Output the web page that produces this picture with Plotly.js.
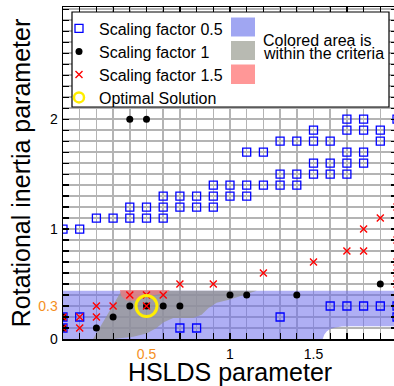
<!DOCTYPE html>
<html><head><meta charset="utf-8">
<script src="https://cdn.plot.ly/plotly-3.0.1.min.js"></script>
<style>html,body{margin:0;padding:0;overflow:hidden;background:#fff}#chart{width:400px;height:386px}</style>
</head><body><div id="chart"></div>
<script>
// ---- data ----
// Scaling factor 0.5 (blue open squares)
const sf05X = [0.0,0.1, 0.2,0.3,0.4,0.5,0.6, 0.4,0.5,0.6,0.7,0.8,0.9, 0.6,0.7,0.8,0.9,1.0,1.1,
               0.9,1.0,1.1,1.2,1.3,1.4, 1.3,1.4,1.5,1.6,1.7, 1.5,1.6,1.7,1.8, 1.1,1.2,1.7,1.8,
               1.3,1.4,1.5,1.6,1.9, 1.5,1.7,1.8,1.9, 1.7,1.8,2.0,
               0.0,0.7,0.8, 0.0,0.1,1.3,2.0, 1.6,1.7,1.8,1.9,2.0];
const sf05Y = [1.0,1.0, 1.1,1.1,1.1,1.1,1.1, 1.2,1.2,1.2,1.2,1.2,1.2, 1.3,1.3,1.3,1.3,1.3,1.3,
               1.4,1.4,1.4,1.4,1.4,1.4, 1.5,1.5,1.5,1.5,1.5, 1.6,1.6,1.6,1.6, 1.7,1.7,1.7,1.7,
               1.8,1.8,1.8,1.8,1.8, 1.9,1.9,1.9,1.9, 2.0,2.0,2.0,
               0.1,0.1,0.1, 0.2,0.2,0.2,0.2, 0.3,0.3,0.3,0.3,0.3];
// Scaling factor 1 (black dots)
const sf1X = [0.4,0.5, 0.0,0.0, 0.2,0.3,0.4,0.5,0.6,0.7, 1.0,1.1,1.4,1.9];
const sf1Y = [2.0,2.0, 0.1,0.2, 0.1,0.2,0.3,0.3,0.3,0.3, 0.4,0.4,0.4,0.5];
// Scaling factor 1.5 (red crosses)
const sf15X = [0.0,0.0,0.1,0.1,0.2,0.2,0.3,0.5,0.4,0.5,0.6,0.7,0.9,1.2,1.5,1.7,1.8,1.8,1.9,2.0,2.0,2.0,2.0,2.0];
const sf15Y = [0.1,0.2,0.1,0.2,0.2,0.3,0.3,0.3,0.4,0.4,0.4,0.5,0.5,0.6,0.7,0.8,0.8,1.0,1.1,0.5,0.6,0.7,0.9,1.2];
// Optimal solution
const optX = [0.5];
const optY = [0.3];
// Regions within the criteria
const blueAreaX = [0, 1.555, 1.565, 1.58, 1.6, 1.63, 1.67, 1.72, 2.0, 2.0, 0];
const blueAreaY = [0, 0, 0.04, 0.07, 0.09, 0.105, 0.113, 0.116, 0.116, 0.44, 0.44];
const grayAreaX = [0.18, 0.35, 1.16, 1.08, 1.0, 0.92, 0.87, 0.83, 0.78, 0.66, 0.6, 0.56, 0.5, 0.42, 0.3, 0.18];
const grayAreaY = [0.0, 0.44, 0.44, 0.40, 0.36, 0.33, 0.28, 0.22, 0.19, 0.19, 0.15, 0.1, 0.05, 0.02, 0.0, 0.0];
const redAreaX = [0.34, 0.64, 0.62, 0.55, 0.48, 0.43, 0.38, 0.35];
const redAreaY = [0.445, 0.445, 0.42, 0.40, 0.38, 0.35, 0.35, 0.39];
// Ticks
const xTickVals = [0.5, 1, 1.5, 2];
const xTickText = ['<span style="color:#f5901e">0.5</span>', '1', '1.5', '2'];
const yTickVals = [0, 0.3, 1, 2];
const yTickText = ['0', '<span style="color:#f5901e">0.3</span>', '1', '2'];

// ---- layout helpers ----
const FONT = 'Liberation Sans, Arial, Helvetica, sans-serif';
const L = 63, T = 7, W = 334, H = 332;
const px = p => (p - L) / W;
const py = p => (T + H - p) / H;
const GRID = '#b4b4b4';

const area = (x, y, c) => ({x, y, type:'scatter', mode:'lines', fill:'toself', fillcolor:c,
  line:{width:0}, showlegend:false, hoverinfo:'skip'});

const traces = [
  area(blueAreaX, blueAreaY, 'rgba(110,110,235,0.55)'),
  area(grayAreaX, grayAreaY, 'rgba(150,150,140,0.72)'),
  area(redAreaX, redAreaY, 'rgba(240,120,125,0.72)'),
  {x:sf05X, y:sf05Y, type:'scatter', mode:'markers', name:'Scaling factor 0.5', legend:'legend',
   marker:{symbol:'square-open', size:8, color:'#0000ff', line:{width:1.3}}},
  {x:sf1X, y:sf1Y, type:'scatter', mode:'markers', name:'Scaling factor 1', legend:'legend2',
   marker:{symbol:'circle', size:7, color:'#000000'}},
  {x:sf15X, y:sf15Y, type:'scatter', mode:'markers', name:'Scaling factor 1.5', legend:'legend3',
   marker:{symbol:'x-thin', size:7, color:'#ff0000', line:{width:1.4, color:'#ff0000'}}},
  {x:optX, y:optY, type:'scatter', mode:'markers', name:'Optimal Solution', showlegend:false,
   marker:{symbol:'circle-open', size:21, color:'#ffee00', line:{width:3}}},
  {x:[null], y:[null], type:'scatter', mode:'markers', name:'Optimal Solution', legend:'legend4',
   marker:{symbol:'circle-open', size:10, color:'#ffee00', line:{width:2.5}}}
];

const axisCommon = {
  ticks:'inside', ticklen:6, tickwidth:1.2, tickcolor:'#000',
  showline:true, linecolor:'#000', linewidth:1.5, mirror:'allticks',
  showgrid:true, gridcolor:GRID, gridwidth:1.5, zeroline:false,
  tickfont:{family:FONT, size:14, color:'#000'},
  tickmode:'array'
};

const legendAt = rowY => ({x:px(59), xanchor:'left', y:py(rowY), yanchor:'middle',
  bgcolor:'rgba(0,0,0,0)', borderwidth:0, font:{family:FONT, size:16, color:'#000'}});

const layout = {
  width:400, height:386,
  margin:{l:L, r:400-L-W, t:T, b:386-T-H},
  paper_bgcolor:'#fff', plot_bgcolor:'#fff',
  font:{family:FONT, color:'#000'},
  xaxis: Object.assign({}, axisCommon, {
    range:[0, 2], tickvals:xTickVals, ticktext:xTickText, ticklabelstandoff:2,
    title:{text:'HSLDS parameter', font:{family:FONT, size:25, color:'#000'}, standoff:0},
    minor:{tickmode:'linear', tick0:0, dtick:0.1, ticks:'inside', ticklen:6, tickcolor:'#000',
           showgrid:true, gridcolor:GRID, gridwidth:1.5}
  }),
  yaxis: Object.assign({}, axisCommon, {
    range:[0, 3.02], tickvals:yTickVals, ticktext:yTickText, ticklabelstandoff:1,
    title:{text:'Rotational inertia parameter', font:{family:FONT, size:25, color:'#000'}, standoff:0},
    minor:{tickmode:'linear', tick0:0, dtick:0.1, ticks:'inside', ticklen:6, tickcolor:'#000',
           showgrid:true, gridcolor:GRID, gridwidth:1.5}
  }),
  showlegend:true,
  legend: legendAt(28.5),
  legend2: legendAt(51.5),
  legend3: legendAt(74.5),
  legend4: legendAt(97.5),
  shapes:[
    {type:'rect', xref:'paper', yref:'paper', x0:px(72), x1:px(389), y0:py(107), y1:py(12),
     fillcolor:'#fff', line:{color:'#000', width:1.2}, layer:'above'},
    {type:'rect', xref:'paper', yref:'paper', x0:px(231), x1:px(255), y0:py(36.5), y1:py(17.5),
     fillcolor:'#a0a6f2', line:{width:0}, layer:'above'},
    {type:'rect', xref:'paper', yref:'paper', x0:px(231), x1:px(255), y0:py(60), y1:py(41),
     fillcolor:'#b8bab2', line:{width:0}, layer:'above'},
    {type:'rect', xref:'paper', yref:'paper', x0:px(231), x1:px(255), y0:py(84), y1:py(64.5),
     fillcolor:'#ff9797', line:{width:0}, layer:'above'}
  ],
  annotations:[
    {text:'Colored area is', xref:'paper', yref:'paper', x:px(261), y:py(40), xanchor:'left', yanchor:'middle',
     showarrow:false, font:{family:FONT, size:16, color:'#000'}},
    {text:'within the criteria', xref:'paper', yref:'paper', x:px(261), y:py(53.5), xanchor:'left', yanchor:'middle',
     showarrow:false, font:{family:FONT, size:16, color:'#000'}}
  ]
};

Plotly.newPlot('chart', traces, layout, {staticPlot:true, displayModeBar:false});
</script>
</body></html>
